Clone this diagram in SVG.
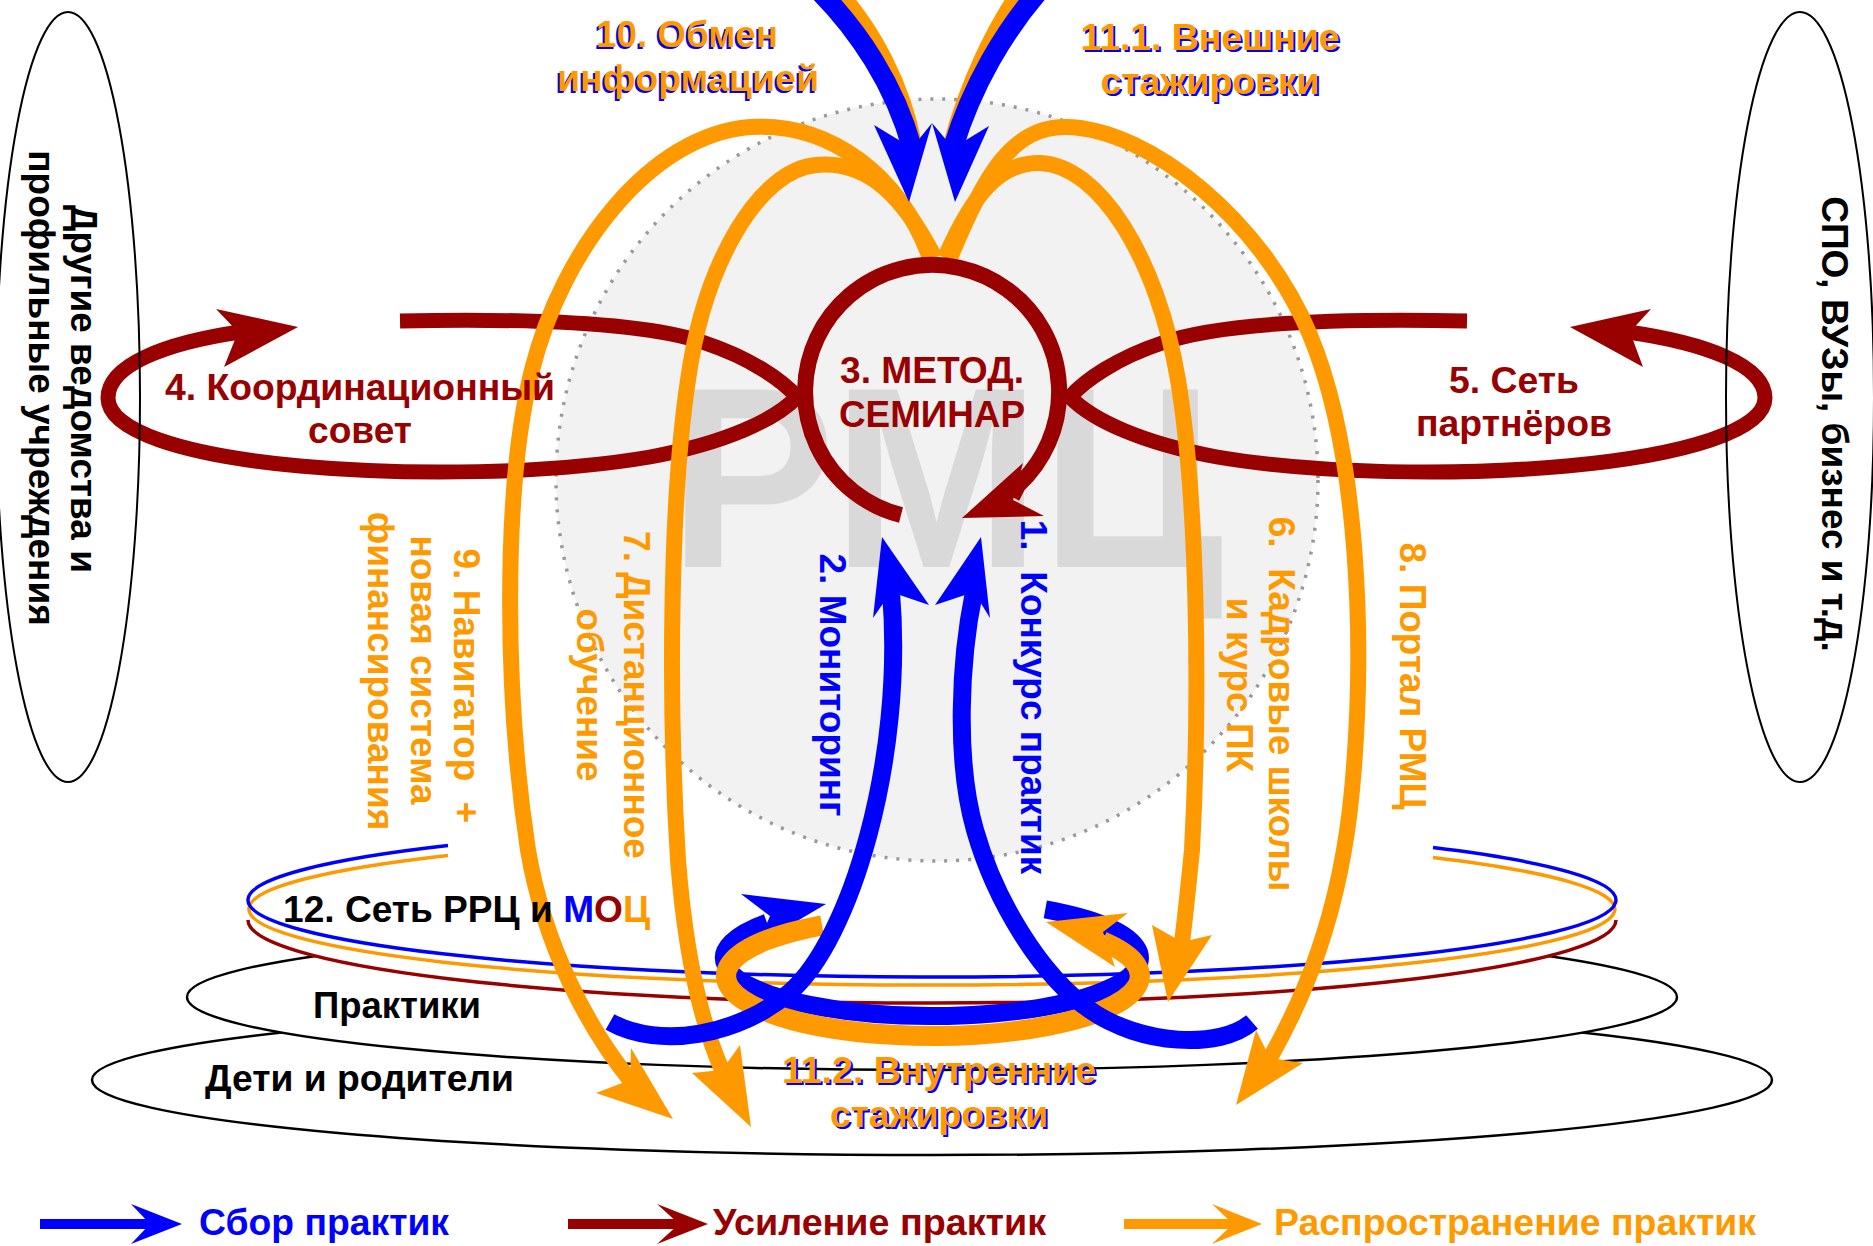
<svg xmlns="http://www.w3.org/2000/svg" width="1873" height="1246" viewBox="0 0 1873 1246">
<defs>
<style>
.t{font-family:"Liberation Sans",Arial,sans-serif;font-weight:700;font-size:37px}
.c{text-anchor:middle}
.pre{white-space:pre}
.ob{fill:none;stroke:#FF9900;stroke-width:16}
.rd{fill:none;stroke:#990000;stroke-width:15}
.bl{fill:none;stroke:#0000FF;stroke-width:18}
.thin{fill:none;stroke-width:3.5}
.fo{fill:#FF9900}
.fr{fill:#990000}
.fb{fill:#0000FF}
.fk{fill:#000000}
.el{fill:#FFFFFF;stroke:#000000;stroke-width:2.5}
.side{fill:none;stroke:#000000;stroke-width:2}
</style>
</defs>
<rect width="1873" height="1246" fill="#FFFFFF"/>

<g id="base-ellipses">
  <ellipse id="deti" class="el" cx="932" cy="1080" rx="840" ry="75"/>
  <ellipse id="praktiki" class="el" cx="932" cy="997" rx="745" ry="73"/>
  <ellipse id="ring-fill" cx="932" cy="920" rx="684" ry="83" fill="#FFFFFF"/>
</g>

<g id="rmc">
  <circle cx="937" cy="480" r="381" fill="#F2F2F2" stroke="#999999" stroke-width="3.5" stroke-dasharray="3 9"/>
  <text class="t c" x="946" y="567" fill="#D9D9D9" textLength="555" lengthAdjust="spacingAndGlyphs" style="font-size:258px">РМЦ</text>
</g>

<g id="network-12">
  <path class="thin" stroke="#990000" d="M 248 920 A 684 83 0 0 0 1616 920"/>
  <path class="thin" stroke="#FF9900" d="M 448 855.4 A 683 76 0 1 0 1433 857.4"/>
  <path class="thin" stroke="#0000FF" d="M 448 845.6 A 684 77 0 1 0 1433 847.6"/>
</g>

<g id="connectors">
  <path class="rd" d="M 400 321 C 540 318, 650 324, 705 343 C 750 358, 782 380, 797 397 C 775 420, 725 443, 650 457 C 550 474, 410 476, 300 466 C 180 455, 108 430, 108 398 C 108 365, 165 343, 240 332"/>
  <polygon class="fr" points="298,327 216,309 238,332 224,367"/>
  <path class="rd" d="M 1467 321 C 1327 318, 1217 324, 1162 343 C 1117 358, 1085 380, 1070 397 C 1092 420, 1142 443, 1217 457 C 1317 474, 1457 476, 1567 466 C 1687 455, 1765 430, 1765 398 C 1765 365, 1705 343, 1628 332"/>
  <polygon class="fr" points="1570,327 1651,309 1630,332 1643,367"/>

  <path class="ob" d="M 930 258 C 900 175, 830 122, 750 127 C 650 135, 562 250, 532 370 C 502 490, 505 700, 528 850 C 545 950, 590 1030, 630 1080"/>
  <polygon class="fo" points="673,1119 596,1093 630,1080 631,1048"/>
  <path class="ob" d="M 935 258 C 905 200, 870 160, 816 165 C 760 170, 705 260, 688 380 C 670 500, 668 700, 678 860 C 685 950, 700 1020, 722 1070"/>
  <polygon class="fo" points="751,1127 692,1073 722,1070 740,1045"/>
  <path class="ob" d="M 945 258 C 972 195, 1000 162, 1040 163 C 1100 165, 1158 260, 1178 380 C 1198 500, 1200 700, 1192 850 C 1188 890, 1185 920, 1182 942"/>
  <polygon class="fo" points="1168,1002 1152,925 1182,942 1212,935"/>
  <path class="ob" d="M 950 258 C 985 175, 1012 125, 1068 127 C 1150 130, 1262 220, 1310 335 C 1358 450, 1366 640, 1352 790 C 1340 920, 1300 1005, 1270 1058"/>
  <polygon class="fo" points="1236,1105 1256,1030 1270,1058 1303,1063"/>

  <path fill="none" stroke="#990000" stroke-width="16" d="M 901 515 A 127 127 0 1 1 1017.8 485.6 L 1012 497"/>
  <polygon class="fr" points="962,518 1023,463 1013,500 1044,516"/>

  <path class="bl" d="M 1045.3 909.4 A 208 58 0 1 1 767 922.7"/>
  <polygon class="fb" points="826,904 741,894 770,916 758,944"/>
  <path fill="none" stroke="#FF9900" stroke-width="20" d="M 822.1 925.3 A 207 60 0 1 0 1102.6 941.6"/>
  <polygon class="fo" points="1046,922 1128,913 1103,932 1115,967"/>

  <path class="bl" d="M 610 1022 C 660 1050, 740 1035, 790 992 C 850 940, 905 760, 891 592"/>
  <polygon class="fb" points="882,537 873,618 891,592 929,605"/>
  <path class="bl" d="M 1252 1022 C 1220 1050, 1140 1045, 1090 1010 C 1040 975, 995 900, 975 830 C 955 760, 960 660, 974 592"/>
  <polygon class="fb" points="981,537 935,605 974,592 990,618"/>

  <path fill="none" stroke="#FF9900" stroke-width="18" d="M 836 -10 C 872 30, 902 85, 913 145"/>
  <path fill="none" stroke="#FF9900" stroke-width="18" d="M 1022 -10 C 994 30, 968 85, 952 145"/>
  <path fill="none" stroke="#0000FF" stroke-width="20" d="M 818 -10 C 858 30, 895 85, 912 148"/>
  <path fill="none" stroke="#0000FF" stroke-width="20" d="M 1040 -10 C 1005 30, 972 85, 953 148"/>
  <polygon class="fb" points="909,202 874,125 912,148 932,123"/>
  <polygon class="fb" points="955,202 932,123 953,148 989,126"/>
</g>

<g id="side-left">
  <ellipse class="side" cx="68" cy="397" rx="72" ry="385"/>
  <text class="t c fk" transform="translate(71,389) rotate(90)">Другие ведомства и</text>
  <text class="t c fk" transform="translate(29,388) rotate(90)">профильные учреждения</text>
</g>
<g id="side-right">
  <ellipse class="side" cx="1800" cy="397" rx="74" ry="385"/>
  <text class="t c fk" transform="translate(1822,424) rotate(90)">СПО, ВУЗы, бизнес и т.д.</text>
</g>

<g id="node-3">
  <text class="t c fr" x="932" y="383" textLength="184" lengthAdjust="spacingAndGlyphs">3. МЕТОД.</text>
  <text class="t c fr" x="932" y="427" textLength="186" lengthAdjust="spacingAndGlyphs">СЕМИНАР</text>
</g>
<g id="node-4">
  <text class="t c fr" x="360" y="400" textLength="390" lengthAdjust="spacingAndGlyphs">4. Координационный</text>
  <text class="t c fr" x="360" y="443" textLength="104" lengthAdjust="spacingAndGlyphs">совет</text>
</g>
<g id="node-5">
  <text class="t c fr" x="1514" y="393" textLength="130" lengthAdjust="spacingAndGlyphs">5. Сеть</text>
  <text class="t c fr" x="1514" y="436" textLength="196" lengthAdjust="spacingAndGlyphs">партнёров</text>
</g>
<g id="node-10">
  <text class="t c fb" x="685" y="49" textLength="182" lengthAdjust="spacingAndGlyphs">10. Обмен</text>
  <text class="t c fo" x="687" y="47" textLength="182" lengthAdjust="spacingAndGlyphs">10. Обмен</text>
  <text class="t c fb" x="686" y="93" textLength="262" lengthAdjust="spacingAndGlyphs">информацией</text>
  <text class="t c fo" x="688" y="91" textLength="262" lengthAdjust="spacingAndGlyphs">информацией</text>
</g>
<g id="node-11-1">
  <text class="t c fb" x="1212" y="52" textLength="259" lengthAdjust="spacingAndGlyphs">11.1. Внешние</text>
  <text class="t c fo" x="1210" y="50" textLength="259" lengthAdjust="spacingAndGlyphs">11.1. Внешние</text>
  <text class="t c fb" x="1212" y="96" textLength="219" lengthAdjust="spacingAndGlyphs">стажировки</text>
  <text class="t c fo" x="1210" y="94" textLength="219" lengthAdjust="spacingAndGlyphs">стажировки</text>
</g>
<g id="node-11-2">
  <text class="t c fb" x="941" y="1085" textLength="314" lengthAdjust="spacingAndGlyphs">11.2. Внутренние</text>
  <text class="t c fo" x="939" y="1083" textLength="314" lengthAdjust="spacingAndGlyphs">11.2. Внутренние</text>
  <text class="t c fb" x="941" y="1129" textLength="218" lengthAdjust="spacingAndGlyphs">стажировки</text>
  <text class="t c fo" x="939" y="1127" textLength="218" lengthAdjust="spacingAndGlyphs">стажировки</text>
</g>
<g id="node-12">
  <text class="t fk" x="283" y="922" textLength="367" lengthAdjust="spacingAndGlyphs">12. Сеть РРЦ и <tspan class="fb">М</tspan><tspan class="fr">О</tspan><tspan class="fo">Ц</tspan></text>
</g>
<g id="node-praktiki">
  <text class="t fk" x="313" y="1018" textLength="168" lengthAdjust="spacingAndGlyphs">Практики</text>
</g>
<g id="node-deti">
  <text class="t fk" x="205" y="1091" textLength="309" lengthAdjust="spacingAndGlyphs">Дети и родители</text>
</g>
<g id="node-1">
  <text class="t c fb pre" transform="translate(1021,697) rotate(90)">1.  Конкурс практик</text>
</g>
<g id="node-2">
  <text class="t c fb" transform="translate(820,685) rotate(90)">2. Мониторинг</text>
</g>
<g id="node-6">
  <text class="t c fo pre" transform="translate(1269,704) rotate(90)">6.  Кадровые школы</text>
  <text class="t c fo" transform="translate(1227,685) rotate(90)">и курс ПК</text>
</g>
<g id="node-7">
  <text class="t c fo" transform="translate(624,695) rotate(90)">7. Дистанционное</text>
  <text class="t c fo" transform="translate(577,695) rotate(90)">обучение</text>
</g>
<g id="node-8">
  <text class="t c fo" transform="translate(1400,676) rotate(90)">8. Портал РМЦ</text>
</g>
<g id="node-9">
  <text class="t c fo pre" transform="translate(454,686) rotate(90)">9. Навигатор  +</text>
  <text class="t c fo" transform="translate(411,670) rotate(90)">новая система</text>
  <text class="t c fo" transform="translate(368,671) rotate(90)">финансирования</text>
</g>

<g id="legend">
  <line x1="40" y1="1224" x2="152" y2="1224" stroke="#0000FF" stroke-width="10"/>
  <polygon class="fb" points="182,1224 131,1204 150,1224 131,1244"/>
  <text class="t fb" x="199" y="1235" textLength="250" lengthAdjust="spacingAndGlyphs">Сбор практик</text>
  <line x1="568" y1="1224" x2="681" y2="1224" stroke="#990000" stroke-width="10"/>
  <polygon class="fr" points="708,1224 657,1204 679,1224 657,1244"/>
  <text class="t fr" x="713" y="1235" textLength="333" lengthAdjust="spacingAndGlyphs">Усиление практик</text>
  <line x1="1124" y1="1224" x2="1235" y2="1224" stroke="#FF9900" stroke-width="10"/>
  <polygon class="fo" points="1262,1224 1212,1204 1233,1224 1212,1244"/>
  <text class="t fo" x="1274" y="1235" textLength="482" lengthAdjust="spacingAndGlyphs">Распространение практик</text>
</g>
</svg>
